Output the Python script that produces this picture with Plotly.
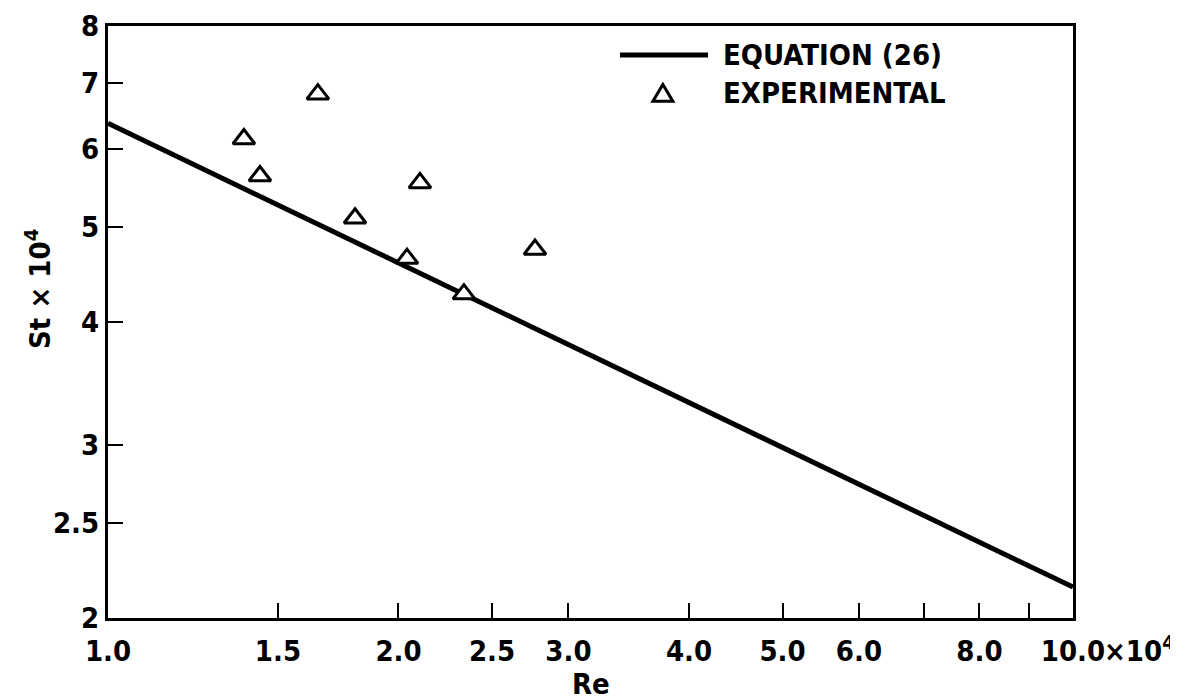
import plotly.graph_objects as go

# Data (Re in units of 10^4, St x 10^4)
eq_re = [1.0, 10.0]
eq_st = [6.37, 2.15]

exp_re = [1.65, 1.383, 1.437, 2.105, 1.803, 2.041, 2.77, 2.338]
exp_st = [6.82, 6.14, 5.63, 5.54, 5.10, 4.64, 4.74, 4.27]

x_tickvals = [1.0, 1.5, 2.0, 2.5, 3.0, 4.0, 5.0, 6.0, 8.0, 10.0]
x_ticktext = ["1.0", "1.5", "2.0", "2.5", "3.0", "4.0", "5.0", "6.0", "8.0", "10.0"]
x_unlabeled = [7.0, 9.0]
y_tickvals = [2, 2.5, 3, 4, 5, 6, 7, 8]
y_ticktext = ["2", "2.5", "3", "4", "5", "6", "7", "8"]

FONT = "DejaVu Sans Condensed"
TF = dict(family=FONT, size=29, color="black", weight="bold")

fig = go.Figure()
fig.add_trace(go.Scatter(x=eq_re, y=eq_st, mode="lines",
                         line=dict(color="black", width=5), showlegend=False))
fig.add_trace(go.Scatter(x=exp_re, y=exp_st, mode="markers",
                         marker=dict(symbol="triangle-up", size=19, color="white",
                                     line=dict(color="black", width=3)),
                         showlegend=False))

fig.update_layout(
    width=1178, height=699,
    margin=dict(l=100, r=113, t=18, b=89),
    paper_bgcolor="white", plot_bgcolor="white",
    font=TF,
    xaxis=dict(type="log", range=[0, 1], tickvals=x_tickvals, ticktext=x_ticktext,
               ticks="inside", ticklen=15, tickwidth=2, tickcolor="black",
               minor=dict(tickmode="array", tickvals=x_unlabeled, ticks="inside",
                          ticklen=15, tickwidth=2, tickcolor="black", showgrid=False),
               showline=True, linewidth=3, linecolor="black", mirror=True,
               showgrid=False, zeroline=False, automargin=False,
               tickfont=TF, ticklabelstandoff=5),
    yaxis=dict(type="log", range=[0.30103, 0.90309], tickvals=y_tickvals, ticktext=y_ticktext,
               ticks="inside", ticklen=15, tickwidth=2, tickcolor="black",
               showline=True, linewidth=3, linecolor="black", mirror=True,
               showgrid=False, zeroline=False, automargin=False,
               tickfont=TF),
)

# axis titles placed as annotations
fig.add_annotation(text="Re", xref="paper", yref="paper", x=0.5, y=-0.112,
                   xanchor="center", yanchor="middle", showarrow=False, font=TF)
fig.add_annotation(text="St × 10<sup>4</sup>", xref="paper", yref="paper",
                   x=-0.072, y=0.555, xanchor="center", yanchor="middle", textangle=-90,
                   showarrow=False, font=TF)

# x-axis multiplier label next to the last tick
fig.add_annotation(text="×10<sup>4</sup>", xref="paper", yref="paper", x=1.0, y=0,
                   xanchor="left", yanchor="top", xshift=29, yshift=-10,
                   showarrow=False, font=TF)

# Manual legend
fig.add_shape(type="line", xref="paper", yref="paper", x0=0.5306, x1=0.6218, y0=0.951, y1=0.951,
              line=dict(color="black", width=5))
fig.add_annotation(text="EQUATION (26)", xref="paper", yref="paper", x=0.635, y=0.951,
                   xanchor="left", yanchor="middle", showarrow=False, font=TF)
cx, cy, hw, hh = 0.575, 0.887, 0.0104, 0.0143
fig.add_shape(type="path", xref="paper", yref="paper",
              path=f"M {cx-hw},{cy-hh} L {cx+hw},{cy-hh} L {cx},{cy+hh} Z",
              line=dict(color="black", width=3), fillcolor="white")
fig.add_annotation(text="EXPERIMENTAL", xref="paper", yref="paper", x=0.635, y=0.887,
                   xanchor="left", yanchor="middle", showarrow=False, font=TF)

fig.write_html("out.html")
